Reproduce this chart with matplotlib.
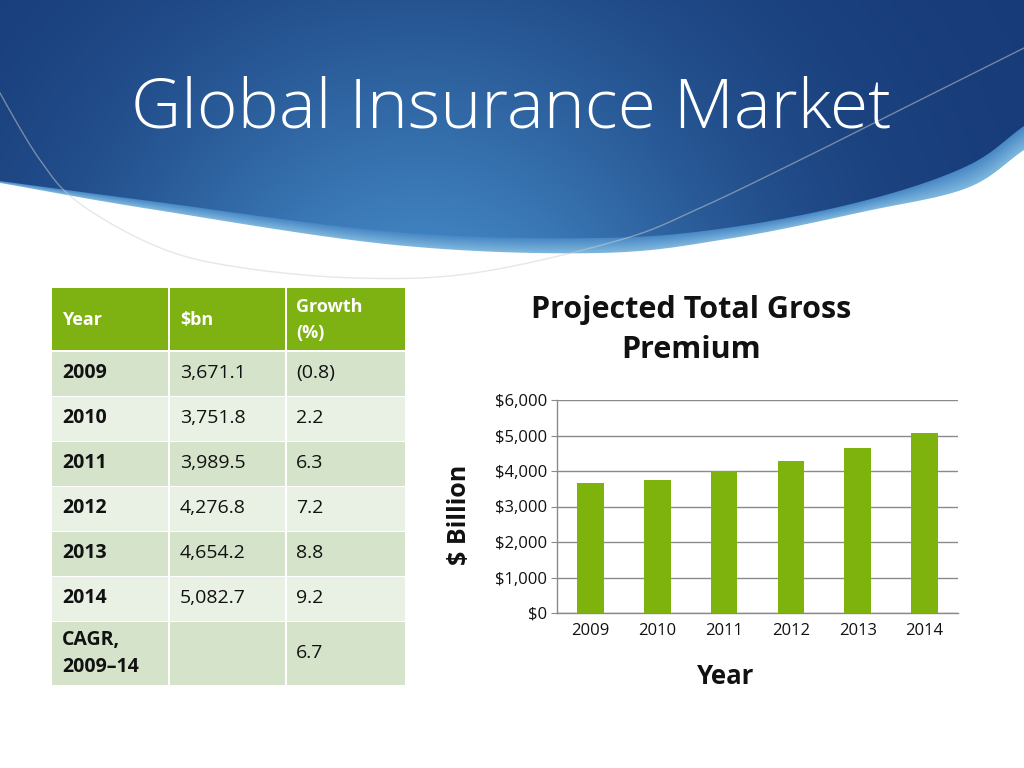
import numpy as np
import matplotlib
matplotlib.use("Agg")
import matplotlib.pyplot as plt
from matplotlib.patches import Rectangle
from matplotlib.ticker import FuncFormatter

plt.rcParams['font.family'] = ['Open Sans', 'DejaVu Sans']

# ---------------- data ----------------
years = ["2009", "2010", "2011", "2012", "2013", "2014"]
premium_bn = [3671.1, 3751.8, 3989.5, 4276.8, 4654.2, 5082.7]
premium_labels = ["3,671.1", "3,751.8", "3,989.5", "4,276.8", "4,654.2", "5,082.7"]
growth_labels = ["(0.8)", "2.2", "6.3", "7.2", "8.8", "9.2"]
table_headers = ["Year", "$bn", "Growth\n(%)"]
cagr_label = "CAGR,\n2009–14"
cagr_value = "6.7"
y_ticks = [0, 1000, 2000, 3000, 4000, 5000, 6000]

slide_title = "Global Insurance Market"
chart_title = "Projected Total Gross\nPremium"
x_title = "Year"
y_title = "$ Billion"

# ---------------- figure ----------------
W, H = 1024, 768
fig = plt.figure(figsize=(10.24, 7.68), dpi=100)
bg = fig.add_axes([0, 0, 1, 1])
bg.set_xlim(0, W)
bg.set_ylim(H, 0)
bg.axis('off')


def catmull(pts, n=40):
    pts = np.asarray(pts, float)
    P = np.vstack([2 * pts[0] - pts[1], pts, 2 * pts[-1] - pts[-2]])
    out = []
    for i in range(1, len(P) - 2):
        p0, p1, p2, p3 = P[i - 1], P[i], P[i + 1], P[i + 2]
        t = np.linspace(0, 1, n, endpoint=False)[:, None]
        c = 0.5 * ((2 * p1) + (-p0 + p2) * t + (2 * p0 - 5 * p1 + 4 * p2 - p3) * t ** 2
                   + (-p0 + 3 * p1 - 3 * p2 + p3) * t ** 3)
        out.append(c)
    out.append(P[-2][None, :])
    return np.vstack(out)


dark_pts = [(0, 181), (150, 201), (395, 232), (600, 238), (733, 227), (867, 200), (967, 166), (1024, 126)]
band_pts = [(0, 183), (150, 209), (395, 245), (600, 253), (733, 238), (867, 211), (967, 188), (1024, 150)]
dc = catmull(dark_pts)
bc = catmull(band_pts)
xs = np.arange(W) + 0.5
ys = np.arange(H) + 0.5
dark_y = np.interp(xs, dc[:, 0], dc[:, 1])
band_y = np.interp(xs, bc[:, 0], bc[:, 1])
X, Y = np.meshgrid(xs, ys)
DY = dark_y[None, :]
BY = band_y[None, :]

c_dark = np.array([0.09, 0.23, 0.47])
c_light = np.array([0.25, 0.51, 0.75])
t = np.exp(-((X - 420) / 330) ** 2) * (0.35 + 0.65 * np.clip(Y / 240, 0, 1))
blue = c_dark + (c_light - c_dark) * t[..., None]

b_top = np.array([0.28, 0.53, 0.77])
b_bot = np.array([0.50, 0.72, 0.87])
s = np.clip((Y - DY) / np.maximum(BY - DY, 1), 0, 1)
band = b_top + (b_bot - b_top) * s[..., None]

white = np.ones(3)
a_dark = np.clip(DY - Y + 0.5, 0, 1)[..., None]
a_band = np.clip(BY - Y + 0.5, 0, 1)[..., None]
img = band * a_band + white * (1 - a_band)
img = blue * a_dark + img * (1 - a_dark)
bg.imshow(img, extent=(0, W, H, 0), aspect='auto', zorder=0, interpolation='nearest')

arc_pts = [(-5, 80), (0, 93), (40, 160), (79, 203), (158, 247), (237, 267), (356, 278),
           (474, 273), (620, 240), (700, 208), (800, 160), (900, 110), (1000, 60), (1040, 40)]
ac = catmull(arc_pts)
bg.plot(ac[:, 0], ac[:, 1], color='#cfcfcf', lw=1.0, alpha=0.5, zorder=1)

bg.text(511, 109, slide_title, color='white', fontsize=50, fontweight='light',
        ha='center', va='center', zorder=5)

# ---------------- table ----------------
col_x = [52, 170, 287]
col_w = [116, 115, 118]
header_top, header_h = 288, 62
row_h = 44.7
cagr_h = 63
header_color = '#7db212'
row_dark = '#d6e3cb'
row_light = '#e9f0e4'
gap = 2
fs = 14

for c in range(3):
    bg.add_patch(Rectangle((col_x[c], header_top), col_w[c], header_h, facecolor=header_color,
                           edgecolor='none', zorder=2))
hdr_pos = [(col_x[0] + 10, header_top + header_h / 2 + 1), (col_x[1] + 10, header_top + header_h / 2 + 1),
           (col_x[2] + 9, header_top + header_h / 2 + 1)]
for c, label in enumerate(table_headers):
    bg.text(hdr_pos[c][0], hdr_pos[c][1], label, color='white', fontsize=13, fontweight='bold',
            ha='left', va='center', linespacing=1.55, zorder=3)

y0 = header_top + header_h + gap
for r in range(len(years)):
    top = y0 + r * (row_h + 0.3)
    fc = row_dark if r % 2 == 0 else row_light
    for c in range(3):
        bg.add_patch(Rectangle((col_x[c], top), col_w[c], row_h - gap + 1, facecolor=fc,
                               edgecolor='none', zorder=2))
    cy = top + (row_h - gap) / 2
    bg.text(col_x[0] + 10, cy, years[r], fontsize=fs, fontweight='bold', color='#111111',
            ha='left', va='center', zorder=3)
    bg.text(col_x[1] + 10, cy, premium_labels[r], fontsize=fs, color='#111111',
            ha='left', va='center', zorder=3)
    bg.text(col_x[2] + 9, cy, growth_labels[r], fontsize=fs, color='#111111',
            ha='left', va='center', zorder=3)

top = y0 + len(years) * (row_h + 0.3)
for c in range(3):
    bg.add_patch(Rectangle((col_x[c], top), col_w[c], cagr_h, facecolor=row_dark,
                           edgecolor='none', zorder=2))
bg.text(col_x[0] + 10, top + cagr_h / 2, cagr_label, fontsize=fs, fontweight='bold', color='#111111',
        ha='left', va='center', linespacing=1.4, zorder=3)
bg.text(col_x[2] + 9, top + cagr_h / 2, cagr_value, fontsize=fs, color='#111111',
        ha='left', va='center', zorder=3)

# ---------------- chart ----------------
ax = fig.add_axes([557 / W, 1 - 613 / H, 401 / W, 213 / H])
ax.patch.set_alpha(0)
xpos = np.arange(len(years))
ax.bar(xpos, premium_bn, width=0.4, color='#7db30c', zorder=3)
ax.set_xlim(-0.5, len(years) - 0.5)
ax.set_ylim(0, 6000)
ax.set_yticks(y_ticks)
ax.yaxis.set_major_formatter(FuncFormatter(lambda v, p: "${:,.0f}".format(v)))
ax.set_xticks(xpos)
ax.set_xticklabels(years)
ax.grid(axis='y', color='#8a8a8a', lw=1.0, zorder=0)
ax.set_axisbelow(True)
for sp in ['top', 'right']:
    ax.spines[sp].set_visible(False)
for sp in ['left', 'bottom']:
    ax.spines[sp].set_color('#8a8a8a')
    ax.spines[sp].set_linewidth(1.0)
ax.tick_params(axis='y', length=4, color='#8a8a8a', labelsize=12, pad=3, labelcolor='#111111')
ax.tick_params(axis='x', length=0, labelsize=12, pad=7, labelcolor='#111111')

bg.text(691, 330, chart_title, fontsize=22, fontweight='bold', ha='center', va='center',
        linespacing=1.42, color='#111111', zorder=5)
bg.text(726, 676, x_title, fontsize=18.5, fontweight='bold', ha='center', va='center', color='#111111')
bg.text(460, 515, y_title, fontsize=18, fontweight='bold', ha='center', va='center', rotation=90,
        color='#111111')

fig.savefig('out.png', dpi=100)
